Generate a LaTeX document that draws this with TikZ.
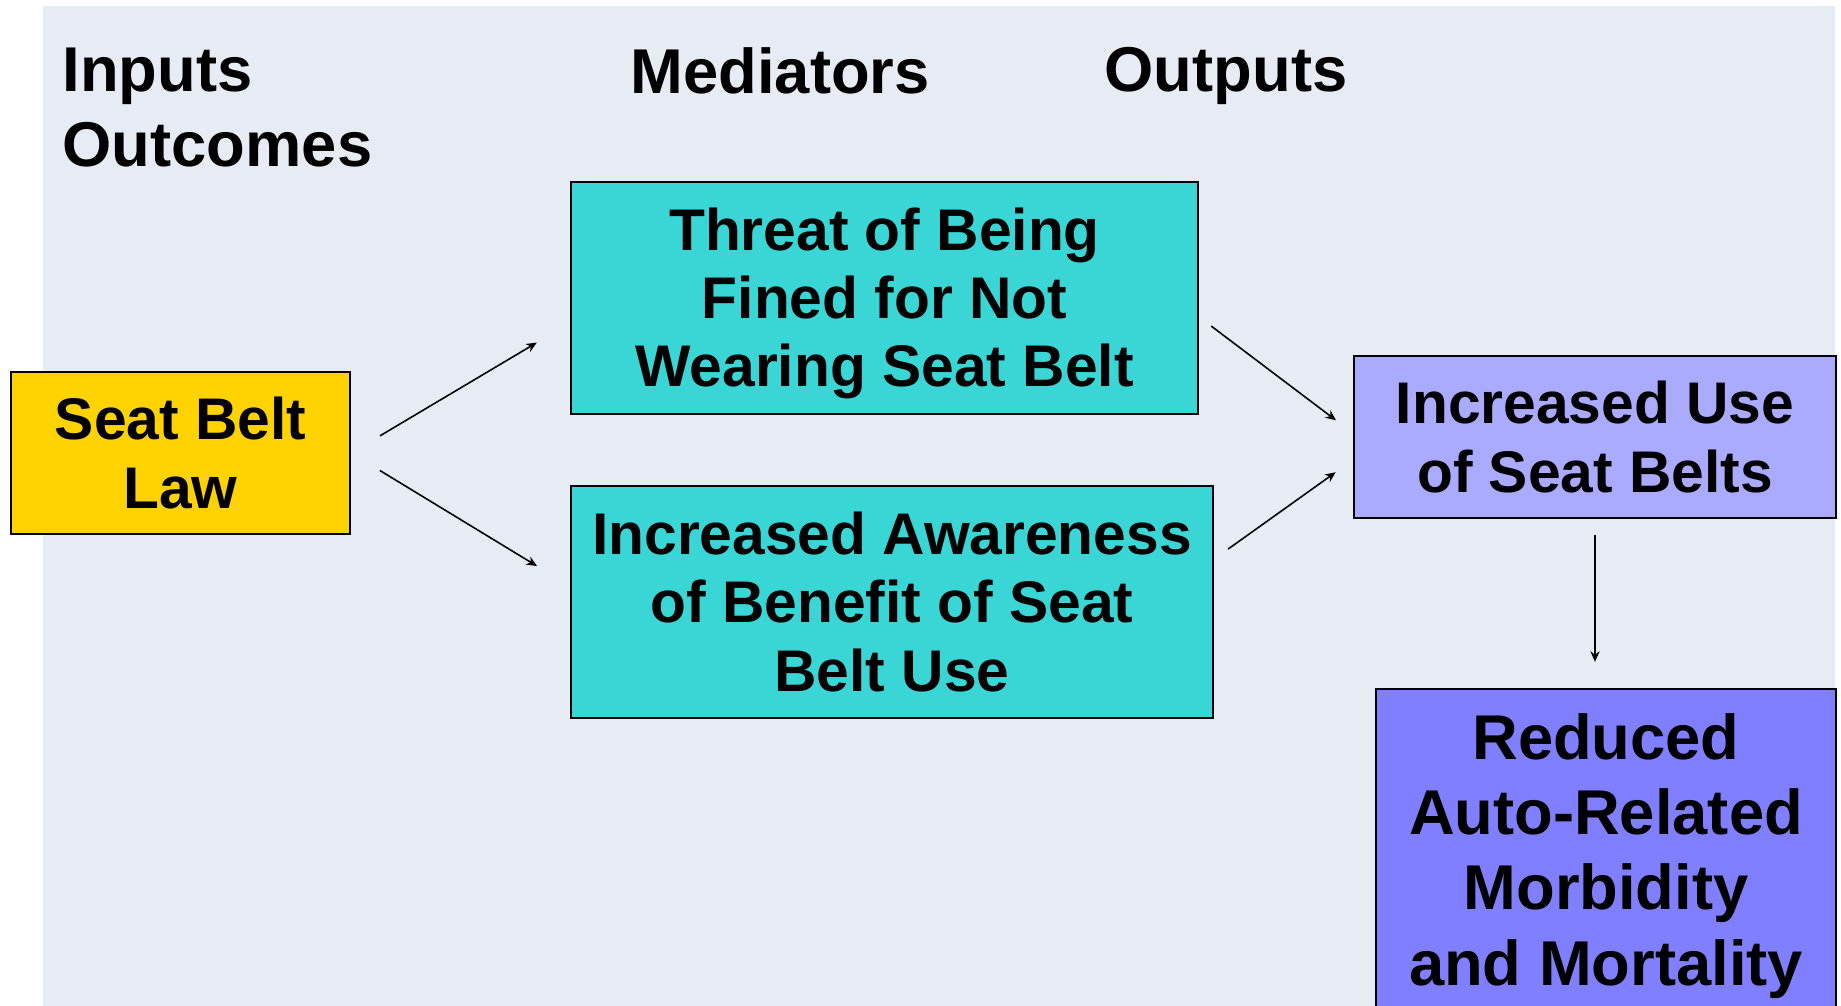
\documentclass[tikz,border=0pt]{standalone}
\usepackage{fontspec}
\setmainfont{Liberation Sans}
\usepackage{tikz}
\definecolor{panel}{RGB}{231,235,243}
\definecolor{lawyellow}{RGB}{255,210,0}
\definecolor{mediteal}{RGB}{58,213,213}
\definecolor{uselav}{RGB}{170,170,255}
\definecolor{outblue}{RGB}{127,127,255}
\usetikzlibrary{arrows.meta,calc}

\begin{document}
\begin{tikzpicture}[x=0.01cm,y=-0.01cm,
    box/.style={draw=black,line width=0.6pt,align=center,inner sep=0pt,
        font=\fontsize{16.7}{19.4}\selectfont\bfseries},
    heading/.style={anchor=north west,align=left,inner sep=0pt,
        font=\fontsize{18}{21.4}\selectfont\bfseries},
    link/.style={-{Stealth[length=3pt,width=2.6pt]},line width=0.45pt}]
    \useasboundingbox (0,0) rectangle (1841,1006);
    \clip (0,0) rectangle (1841,1006);
    \fill[panel] (43,6) rectangle (1835,1006);

    % column headings
    \node[heading] (inputs) at (62,47) {Inputs\\Outcomes};
    \node[heading] (mediators) at (630,47) {Mediators};
    \node[heading] (outputs) at (1104,47) {Outputs};

    % boxes
    \node[box,fill=lawyellow,minimum width=3.39cm,minimum height=1.62cm] (law) at (180.5,453) {Seat Belt\\Law};
    \node[box,fill=mediteal,minimum width=6.27cm,minimum height=2.32cm] (threat) at (884.5,298) {\rule{0pt}{0.53cm}Threat of Being\\Fined for Not\\Wearing Seat Belt};
    \node[box,fill=mediteal,minimum width=6.42cm,minimum height=2.32cm] (aware) at (892,602) {Increased Awareness\\of Benefit of Seat\\Belt Use};
    \node[box,fill=uselav,minimum width=4.82cm,minimum height=1.62cm] (use) at (1595,437) {Increased Use\\of Seat Belts};
    \node[box,fill=outblue,minimum width=4.6cm,minimum height=3.34cm,
        font=\fontsize{18}{21.4}\selectfont\bfseries] (reduced) at (1606,856) {Reduced\\Auto-Related\\Morbidity\\and Mortality};

    % arrows
    \draw[link,shorten <=0.336cm,shorten >=0.383cm] (law.east) -- ([yshift=-0.25cm]threat.west);
    \draw[link,shorten <=0.336cm,shorten >=0.383cm] (law.east) -- ([yshift=0.16cm]aware.west);
    \draw[link,shorten <=0.15cm,shorten >=0.21cm] ([yshift=-0.19cm]threat.east) -- ([yshift=0.04cm]use.west);
    \draw[link,shorten <=0.17cm,shorten >=0.21cm] ([yshift=0.43cm]aware.east) -- ([yshift=-0.23cm]use.west);
    \draw[link,shorten <=0.16cm,shorten >=0.26cm] (use.south) -- (use.south |- reduced.north);
\end{tikzpicture}
\end{document}
